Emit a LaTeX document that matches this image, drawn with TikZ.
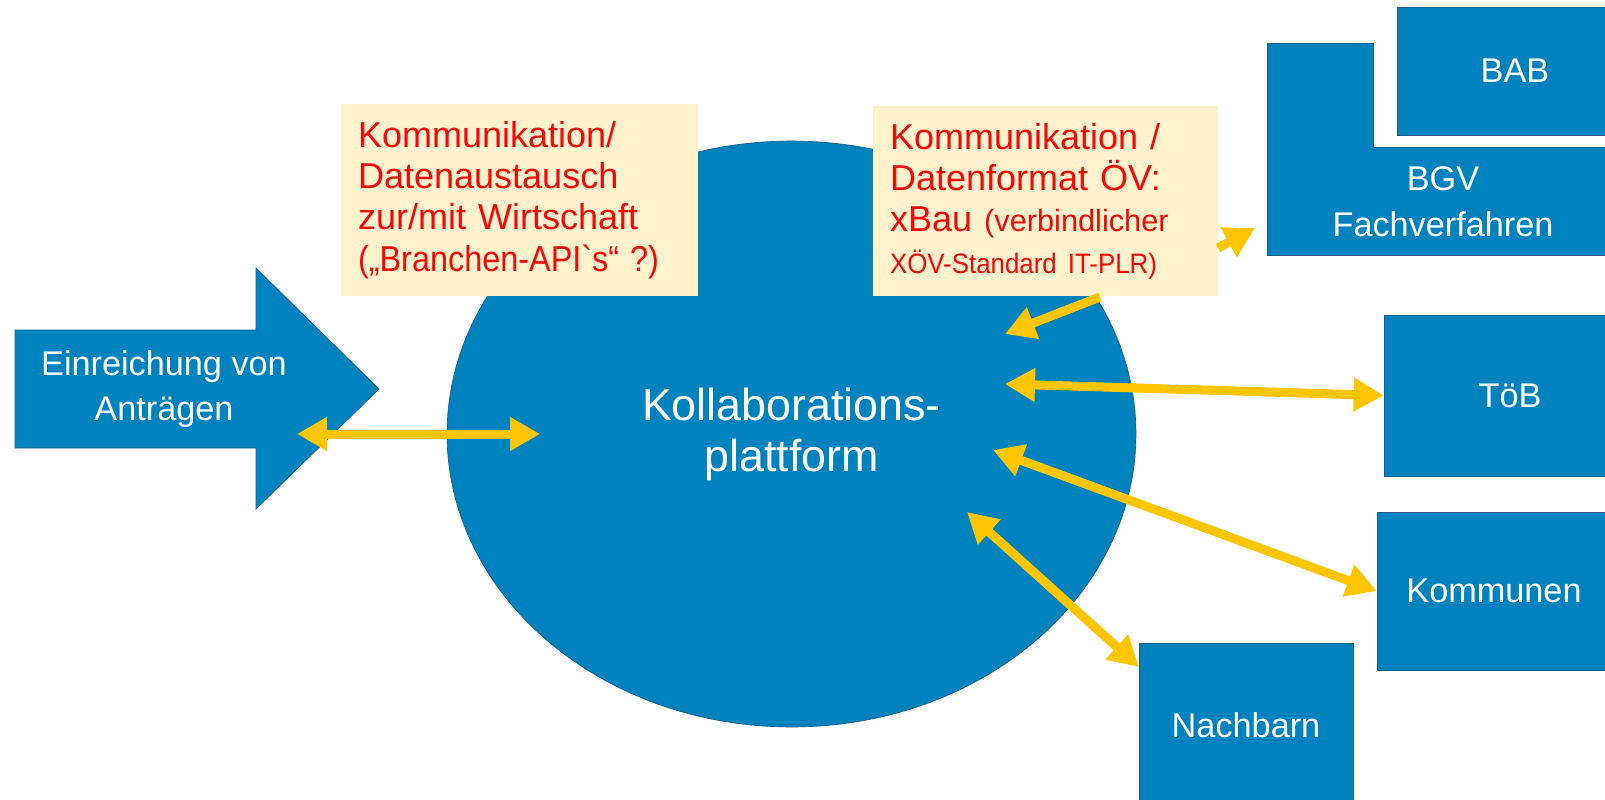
\documentclass[tikz,border=0pt]{standalone}
\usepackage{fontspec}
\setmainfont{Liberation Sans}
\usetikzlibrary{shapes.geometric,arrows.meta}
\definecolor{boxblue}{RGB}{0,130,190}
\definecolor{boxedge}{RGB}{25,95,140}
\definecolor{notecream}{RGB}{255,242,204}
\definecolor{notered}{RGB}{240,10,10}
\definecolor{linkyellow}{RGB}{255,198,0}
\newcommand{\notesmall}{\fontsize{17.5}{23.5}\selectfont}
\tikzset{
  bluebox/.style={shape=rectangle,fill=boxblue,draw=boxedge,thin,text=white,
    font=\fontsize{19.5}{26}\selectfont,inner sep=0pt,align=center},
  notebox/.style={shape=rectangle,fill=notecream,text=notered,align=left,
    font=\fontsize{20.5}{23.5}\selectfont,inner sep=0.34cm},
  boxtext/.style={text=white,font=\fontsize{19.5}{26}\selectfont,align=center},
  link/.style={linkyellow,line width=0.18cm,>={Triangle[length=0.6cm,width=0.64cm]}}
}

\begin{document}
\begin{tikzpicture}[x=0.02cm,y=-0.02cm]
  \useasboundingbox (0,0) rectangle (1605,799);
  \fill[white](0,0)rectangle(1605,799); %background
  \node[shape=ellipse,fill=boxblue,draw=boxedge,thin,minimum width=13.78cm,minimum height=11.72cm,
    inner sep=0pt,text=white,font=\fontsize{25.5}{29}\selectfont,align=center] (plat) at (791.5,434)
    {Kollaborations-\\plattform}; %platform
  \draw[fill=boxblue,draw=boxedge,thin](15,330)--(256,330)--(256,268)--(379,389)
    --(256,509)--(256,448)--(15,448)--cycle; %big arrow
  \node[boxtext] (einr) at (164,389){Einreichung von\\Antr\"agen};
  %notes
  \node[notebox,text width=6.46cm,minimum height=3.76cm] (noteL) at (519.5,200)
    {Kommunikation/\\Datenaustausch\\zur/mit Wirtschaft\\
    \mbox{\scalebox{0.9}[1]{(„Branchen-API\textasciigrave s“ ?)}}};
  \node[notebox,text width=6.22cm,minimum height=3.8cm] (noteR) at (1045.5,201)
    {Kommunikation /\\Datenformat \"OV:\\xBau {\notesmall(verbindlicher}\\
    \mbox{\fontsize{16}{23.5}\selectfont\scalebox{0.92}[1]{X\"OV-Standard IT-PLR)}}};
  %partners
  \node[bluebox,minimum width=4.72cm,minimum height=2.56cm] (bab) at (1515,71){BAB};
  \draw[fill=boxblue,draw=boxedge,thin](1267,43)--(1373,43)--(1373,147)--(1612,147)
    --(1612,255)--(1267,255)--cycle; %BGV
  \node[boxtext] (bgv) at (1443,202){BGV\\Fachverfahren};
  \node[bluebox,minimum width=5.04cm,minimum height=3.22cm] (toeb) at (1510,395.5){T\"oB};
  \node[bluebox,minimum width=4.68cm,minimum height=3.16cm] (komm) at (1494,591){Kommunen};
  \node[bluebox,minimum width=4.28cm,minimum height=3.28cm] (nach) at (1246,725){Nachbarn};
  %arrows
  \coordinate (einrIn) at (297,434);
  \coordinate (platW) at (540,434);
  \coordinate (noteFoot) at (1100,297);
  \coordinate (platN) at (1005,334);
  \coordinate (platE) at (1005,384);
  \coordinate (platSE) at (993,450);
  \coordinate (platS) at (967,512);
  \coordinate (nachIn) at (1139,667);
  \coordinate (noteSide) at (1218,248);
  \coordinate (bgvIn) at (1255,228);
  \draw[link,<->](einrIn)--(platW);
  \draw[link,->](noteFoot)--(platN);
  \draw[link,<->](platE)--(toeb.west);
  \draw[link,<->](platSE)--(komm.west);
  \draw[link,<->](platS)--(nachIn);
  \draw[link,->](noteSide)--(bgvIn);
\end{tikzpicture}
\end{document}
